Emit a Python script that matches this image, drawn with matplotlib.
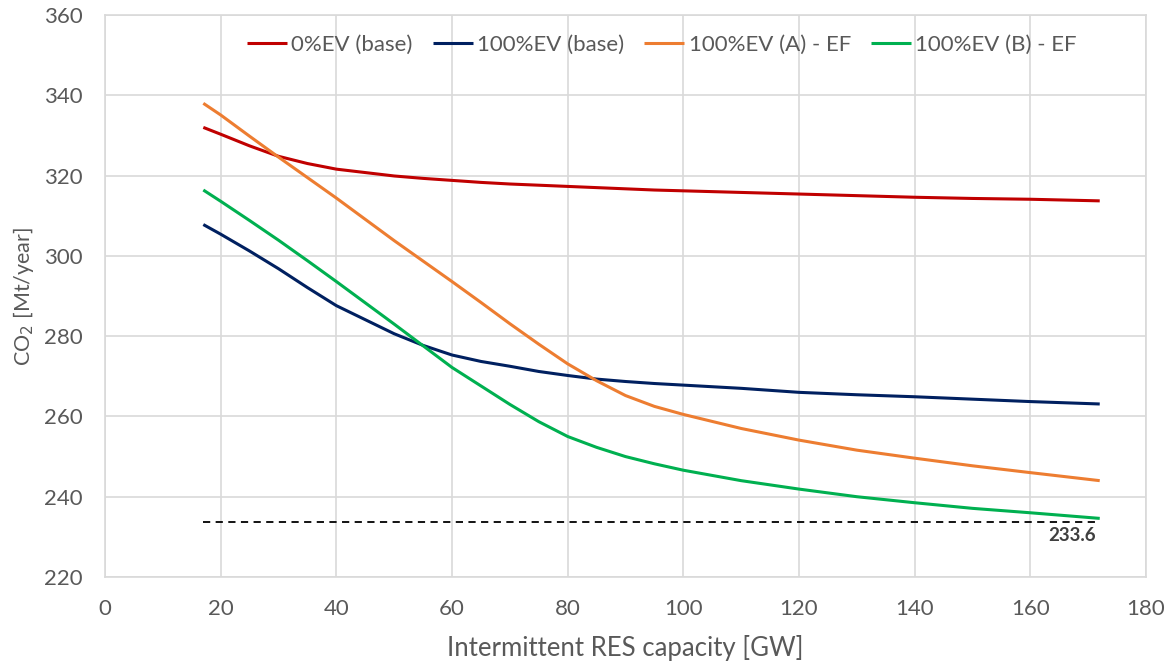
import matplotlib
matplotlib.use("Agg")
import matplotlib.pyplot as plt

plt.rcParams['font.family'] = ['Lato', 'DejaVu Sans']

# capacity points [GW]
cap = [17, 20, 25, 30, 35, 40, 50, 55, 60, 65, 70, 75, 80, 85, 90, 95, 100,
       110, 120, 130, 140, 150, 160, 172]

ev0_base = [332.0, 330.3, 327.4, 324.8, 323.0, 321.6, 319.9, 319.3, 318.8, 318.3,
            317.9, 317.6, 317.3, 317.0, 316.7, 316.4, 316.2, 315.8, 315.4, 315.0,
            314.6, 314.3, 314.1, 313.7]
ev100_base = [307.8, 305.4, 301.2, 296.8, 292.1, 287.6, 280.6, 277.7, 275.3, 273.7,
              272.5, 271.2, 270.2, 269.3, 268.7, 268.2, 267.8, 267.0, 266.0, 265.4,
              264.9, 264.3, 263.7, 263.1]
ev100_a = [338.0, 335.1, 329.8, 324.6, 319.5, 314.4, 303.8, 298.7, 293.6, 288.4,
           283.1, 278.0, 273.1, 268.9, 265.2, 262.5, 260.5, 257.0, 254.1, 251.6,
           249.6, 247.7, 246.0, 244.0]
ev100_b = [316.4, 313.6, 308.8, 303.9, 298.8, 293.6, 283.0, 277.6, 272.2, 267.6,
           263.0, 258.7, 255.0, 252.3, 250.0, 248.2, 246.6, 244.0, 241.9, 240.0,
           238.5, 237.1, 236.0, 234.6]

target = 233.6
target_x = [17, 172]

labels = ['0%EV (base)', '100%EV (base)', '100%EV (A) - EF', '100%EV (B) - EF']
colors = ['#C00000', '#002060', '#ED7D31', '#00B050']

fig = plt.figure(figsize=(11.74, 6.66), dpi=100)
ax = fig.add_axes([105/1174, 1 - 577/666, (1146-105)/1174, (577-15)/666])

for ys, lab, c in zip([ev0_base, ev100_base, ev100_a, ev100_b], labels, colors):
    ax.plot(cap, ys, color=c, lw=2.2, label=lab, solid_capstyle='butt')

ax.plot(target_x, [target, target], color='black', lw=1.3, ls=(0, (4, 3)))
ax.text(171.3, 230.4, f'{target}', ha='right', va='center', fontsize=13.5,
        fontweight='bold', color='#404040')

ax.set_xlim(0, 180)
ax.set_ylim(220, 360)
ax.set_xticks(range(0, 181, 20))
ax.set_yticks(range(220, 361, 20))
ax.grid(True, color='#d9d9d9', lw=1.2)
ax.set_axisbelow(True)
for s in ax.spines.values():
    s.set_color('#d9d9d9')
    s.set_linewidth(1.2)
ax.tick_params(length=0, labelsize=16, labelcolor='#595959', pad=16)

ax.set_xlabel('Intermittent RES capacity [GW]', fontsize=18.5, color='#595959', va='center')
ax.xaxis.set_label_coords(0.5, (577 - 648) / 562)
ax.set_ylabel('CO$_2$ [Mt/year]', fontsize=15.5, color='#595959', va='center')
ax.yaxis.set_label_coords((23 - 105) / 1041, 0.5)

ax.legend(loc='center', bbox_to_anchor=(0.535, 0.947), ncol=4, frameon=False,
          fontsize=16, labelcolor='#595959', handlelength=1.8, handletextpad=0.2,
          columnspacing=0.9)

fig.savefig('out.png', dpi=100)
